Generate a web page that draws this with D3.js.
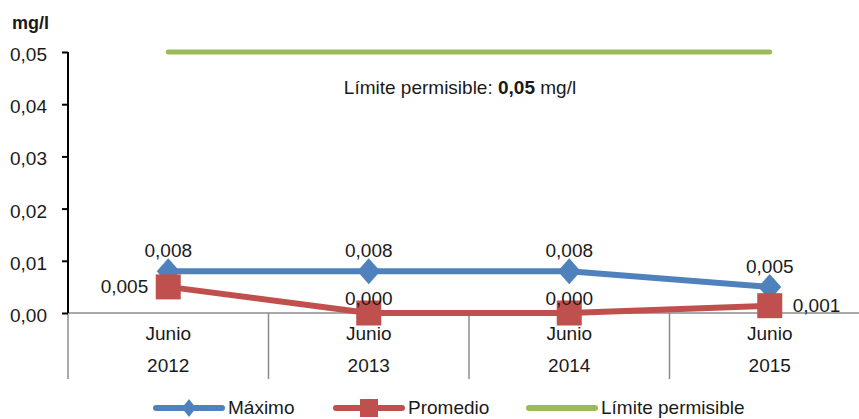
<!DOCTYPE html>
<html>
<head>
<meta charset="utf-8">
<script src="https://cdn.jsdelivr.net/npm/d3@7"></script>
<style>
  body { margin: 0; background: #fff; }
  text { font-family: "Liberation Sans", Arial, sans-serif; fill: #1a1a1a; }
</style>
</head>
<body>
<svg width="859" height="419"></svg>
<script>
var categories = [["Junio", "2012"], ["Junio", "2013"], ["Junio", "2014"], ["Junio", "2015"]];
var maximo = [0.008, 0.008, 0.008, 0.005];
var promedio = [0.005, 0.000, 0.000, 0.0014];
var limite = [0.05, 0.05, 0.05, 0.05];
var yTicks = [0, 0.01, 0.02, 0.03, 0.04, 0.05];
var promedioLabelPos = ["left", "above", "above", "right"];

var svg = d3.select("svg");
var plotLeft = 68, plotRight = 870, plotTop = 52, plotBottom = 313;
var fs = "19px";

var fmt = function (v, d) { return v.toFixed(d).replace(".", ","); };

var x = d3.scaleBand()
    .domain(d3.range(categories.length))
    .range([plotLeft, plotRight]);

var y = d3.scaleLinear()
    .domain([0, 0.05])
    .range([plotBottom, plotTop]);

var cx = function (i) { return x(i) + x.bandwidth() / 2; };

// category separators below the axis
svg.append("g")
    .selectAll("line")
    .data(d3.range(categories.length + 1))
    .join("line")
    .attr("x1", i => plotLeft + i * x.bandwidth())
    .attr("x2", i => plotLeft + i * x.bandwidth())
    .attr("y1", plotBottom)
    .attr("y2", 379)
    .attr("stroke", "#8c8c8c")
    .attr("stroke-width", 1.5);

// x axis line
svg.append("line")
    .attr("x1", plotLeft).attr("x2", 859)
    .attr("y1", plotBottom).attr("y2", plotBottom)
    .attr("stroke", "#8c8c8c")
    .attr("stroke-width", 1.5);

// category labels
var cat = svg.append("g").selectAll("g")
    .data(categories)
    .join("g");
cat.append("text")
    .attr("x", (d, i) => cx(i))
    .attr("y", 340)
    .attr("text-anchor", "middle")
    .style("font-size", fs)
    .text(d => d[0]);
cat.append("text")
    .attr("x", (d, i) => cx(i))
    .attr("y", 372)
    .attr("text-anchor", "middle")
    .style("font-size", fs)
    .text(d => d[1]);

// y axis
var yAxis = d3.axisLeft(y)
    .tickValues(yTicks)
    .tickSize(6)
    .tickPadding(15)
    .tickFormat(d => fmt(d, 2));

var gY = svg.append("g")
    .attr("transform", "translate(" + plotLeft + ",0)")
    .call(yAxis);
gY.select(".domain").attr("stroke", "#000").attr("stroke-width", 2).attr("d", "M0," + plotTop + "V" + plotBottom);
gY.selectAll(".tick line").attr("stroke", "#000").attr("stroke-width", 2);
gY.selectAll(".tick text")
    .attr("dy", "0.45em")
    .style("font-size", fs)
    .style("font-family", "\"Liberation Sans\", Arial, sans-serif")
    .attr("fill", "#1a1a1a");

svg.append("text")
    .attr("x", 12).attr("y", 29)
    .style("font-size", "18px")
    .style("font-weight", "bold")
    .text("mg/l");

var line = d3.line()
    .x((d, i) => cx(i))
    .y(d => y(d));

// limit line
svg.append("path")
    .datum(limite)
    .attr("d", line)
    .attr("fill", "none")
    .attr("stroke", "#9BBB59")
    .attr("stroke-width", 5)
    .attr("stroke-linecap", "round");

var note = svg.append("text")
    .attr("x", 460).attr("y", 94)
    .attr("text-anchor", "middle")
    .style("font-size", fs);
note.append("tspan").text("Límite permisible: ");
note.append("tspan").style("font-weight", "bold").text("0,05");
note.append("tspan").text(" mg/l");

// Máximo
svg.append("path")
    .datum(maximo)
    .attr("d", line)
    .attr("fill", "none")
    .attr("stroke", "#4F81BD")
    .attr("stroke-width", 6)
    .attr("stroke-linejoin", "round");

svg.append("g").selectAll("path")
    .data(maximo)
    .join("path")
    .attr("transform", (d, i) => "translate(" + cx(i) + "," + y(d) + ")")
    .attr("d", "M0,-13L11.5,0L0,13L-11.5,0Z")
    .attr("fill", "#4F81BD");

// Promedio
svg.append("path")
    .datum(promedio)
    .attr("d", line)
    .attr("fill", "none")
    .attr("stroke", "#C0504D")
    .attr("stroke-width", 6)
    .attr("stroke-linejoin", "round");

svg.append("g").selectAll("rect")
    .data(promedio)
    .join("rect")
    .attr("x", (d, i) => cx(i) - 12.5)
    .attr("y", d => y(d) - 12.5)
    .attr("width", 25)
    .attr("height", 25)
    .attr("fill", "#C0504D");

// data labels
svg.append("g").selectAll("text")
    .data(maximo)
    .join("text")
    .attr("x", (d, i) => cx(i))
    .attr("y", d => y(d) - 14)
    .attr("text-anchor", "middle")
    .style("font-size", fs)
    .text(d => fmt(d, 3));

svg.append("g").selectAll("text")
    .data(promedio)
    .join("text")
    .attr("x", (d, i) => {
        var p = promedioLabelPos[i];
        return p == "left" ? cx(i) - 20 : p == "right" ? cx(i) + 23 : cx(i);
    })
    .attr("y", (d, i) => promedioLabelPos[i] == "above" ? y(d) - 8 : y(d) + 6)
    .attr("text-anchor", (d, i) => {
        var p = promedioLabelPos[i];
        return p == "left" ? "end" : p == "right" ? "start" : "middle";
    })
    .style("font-size", fs)
    .text(d => fmt(d, 3));

// legend
var legend = [
    { name: "Máximo", color: "#4F81BD", marker: "diamond", x: 154 },
    { name: "Promedio", color: "#C0504D", marker: "square", x: 334 },
    { name: "Límite permisible", color: "#9BBB59", marker: null, x: 527 }
];
var lg = svg.append("g").selectAll("g")
    .data(legend)
    .join("g")
    .attr("transform", d => "translate(" + d.x + ",408)");
lg.append("line")
    .attr("x1", 2).attr("x2", 68)
    .attr("stroke", d => d.color)
    .attr("stroke-width", 6)
    .attr("stroke-linecap", "round");
lg.filter(d => d.marker == "diamond").append("path")
    .attr("d", "M35,-9L42,0L35,9L28,0Z")
    .attr("fill", d => d.color);
lg.filter(d => d.marker == "square").append("rect")
    .attr("x", 26).attr("y", -9)
    .attr("width", 18).attr("height", 18)
    .attr("fill", d => d.color);
lg.append("text")
    .attr("x", 74).attr("y", 6)
    .style("font-size", fs)
    .text(d => d.name);
</script>
</body>
</html>
